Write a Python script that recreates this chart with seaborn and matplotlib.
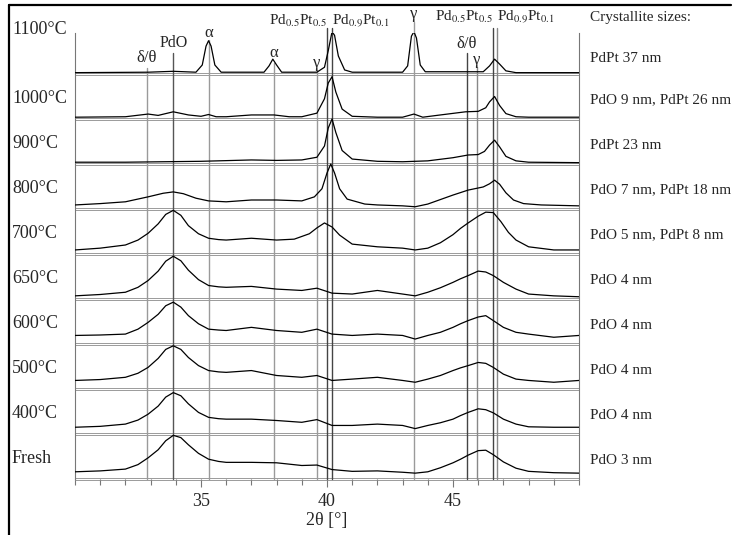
import numpy as np
import matplotlib
matplotlib.use("Agg")
import matplotlib.pyplot as plt
import matplotlib.transforms as mtransforms
from matplotlib.lines import Line2D
from matplotlib.ticker import MultipleLocator
import seaborn as sns

# samples, bottom row first
samples = ['Fresh', '400°C', '500°C', '600°C', '650°C', '700°C', '800°C', '900°C', '1000°C', '1100°C']
sizes = ['PdO 3 nm', 'PdO 4 nm', 'PdO 4 nm', 'PdO 4 nm', 'PdO 4 nm',
         'PdO 5 nm, PdPt 8 nm', 'PdO 7 nm, PdPt 18 nm', 'PdPt 23 nm',
         'PdO 9 nm, PdPt 26 nm', 'PdPt 37 nm']

# patterns (intensity in row heights)
tt_broad = [30, 31, 32, 32.5, 32.9, 33.3, 33.6, 33.9, 34.2, 34.5, 34.9, 35.3, 35.7, 36, 37, 38, 39, 39.6,
            40.2, 41, 42, 43, 43.5, 44, 44.5, 45, 45.3, 45.6, 46.0, 46.3, 46.6, 47, 47.5, 48, 49, 50]
i_fresh = [0.16, 0.18, 0.22, 0.32, 0.47, 0.65, 0.85, 0.97, 0.92, 0.76, 0.57, 0.44, 0.39, 0.37, 0.37, 0.36, 0.30, 0.31,
           0.21, 0.17, 0.18, 0.15, 0.13, 0.16, 0.25, 0.36, 0.44, 0.53, 0.63, 0.64, 0.54, 0.38, 0.24, 0.17, 0.14, 0.13]
i_400 = [0.15, 0.17, 0.22, 0.31, 0.44, 0.62, 0.82, 0.92, 0.85, 0.67, 0.48, 0.37, 0.34, 0.33, 0.33, 0.30, 0.26, 0.32,
         0.19, 0.19, 0.22, 0.19, 0.12, 0.19, 0.25, 0.33, 0.41, 0.48, 0.56, 0.54, 0.47, 0.33, 0.22, 0.16, 0.15, 0.15]
i_500 = [0.19, 0.21, 0.26, 0.35, 0.48, 0.68, 0.88, 0.96, 0.88, 0.70, 0.52, 0.41, 0.38, 0.37, 0.41, 0.30, 0.26, 0.30,
         0.19, 0.22, 0.26, 0.19, 0.15, 0.22, 0.30, 0.41, 0.47, 0.52, 0.59, 0.57, 0.48, 0.33, 0.22, 0.19, 0.15, 0.19]
i_600 = [0.19, 0.20, 0.22, 0.33, 0.48, 0.66, 0.85, 0.93, 0.82, 0.63, 0.45, 0.33, 0.31, 0.30, 0.37, 0.30, 0.26, 0.33,
         0.22, 0.19, 0.22, 0.19, 0.11, 0.19, 0.26, 0.37, 0.45, 0.52, 0.60, 0.63, 0.52, 0.37, 0.26, 0.22, 0.15, 0.19]
i_650 = [0.07, 0.10, 0.15, 0.26, 0.41, 0.62, 0.84, 0.95, 0.85, 0.64, 0.43, 0.30, 0.27, 0.26, 0.28, 0.22, 0.19, 0.24,
         0.13, 0.11, 0.19, 0.11, 0.07, 0.15, 0.25, 0.37, 0.45, 0.52, 0.62, 0.60, 0.52, 0.37, 0.22, 0.11, 0.07, 0.05]

tt_700 = [30, 31, 32, 32.5, 32.9, 33.3, 33.6, 33.9, 34.2, 34.5, 34.9, 35.3, 35.7, 36, 37, 38, 38.7, 39.3, 39.6, 39.9,
          40.2, 40.5, 41, 42, 43, 43.5, 44, 44.5, 45, 45.3, 45.6, 46.0, 46.3, 46.6, 46.9, 47.2, 47.5, 48, 49, 50]
i_700 = [0.09, 0.13, 0.20, 0.31, 0.46, 0.67, 0.88, 0.97, 0.86, 0.63, 0.45, 0.35, 0.32, 0.31, 0.35, 0.31, 0.33, 0.45, 0.58, 0.69,
         0.60, 0.42, 0.22, 0.16, 0.13, 0.09, 0.13, 0.25, 0.43, 0.57, 0.69, 0.84, 0.93, 0.92, 0.72, 0.48, 0.31, 0.16, 0.09, 0.09]

tt_800 = [30, 31, 32, 32.9, 33.5, 33.9, 34.3, 34.8, 35.3, 36, 37, 38, 39, 39.5, 39.8, 40.0, 40.15, 40.3,
          40.5, 40.8, 41.5, 42, 43, 43.5, 44, 45, 45.6, 46.2, 46.45, 46.65, 46.85, 47.1, 47.4, 47.8, 48.5, 50]
i_800 = [0.09, 0.12, 0.16, 0.27, 0.35, 0.38, 0.34, 0.24, 0.18, 0.16, 0.20, 0.20, 0.18, 0.27, 0.45, 0.80, 1.0, 0.80,
         0.45, 0.22, 0.11, 0.09, 0.07, 0.05, 0.11, 0.31, 0.42, 0.49, 0.56, 0.64, 0.55, 0.36, 0.20, 0.12, 0.09, 0.07]

tt_900 = [30, 32, 35, 37, 38, 39, 39.6, 39.9, 40.05, 40.2, 40.35, 40.6, 41, 42, 43, 44, 45, 45.6,
          46.0, 46.25, 46.45, 46.65, 46.85, 47.1, 47.5, 48, 50]
i_900 = [0.04, 0.04, 0.06, 0.09, 0.08, 0.09, 0.15, 0.40, 0.80, 1.0, 0.70, 0.30, 0.11, 0.06, 0.05, 0.07, 0.14, 0.20,
         0.21, 0.28, 0.42, 0.53, 0.38, 0.17, 0.07, 0.04, 0.03]

tt_1000 = [30, 32, 32.9, 33.3, 33.9, 34.5, 35.0, 35.3, 35.6, 36, 37, 37.9, 38.5, 39, 39.6, 39.9, 40.05, 40.2,
           40.35, 40.6, 41, 42, 43, 43.45, 43.8, 44.5, 45.5, 46.0, 46.3, 46.45, 46.65, 46.85, 47.1, 47.5, 48, 50]
i_1000 = [0.04, 0.05, 0.11, 0.08, 0.16, 0.09, 0.06, 0.10, 0.05, 0.05, 0.09, 0.09, 0.05, 0.05, 0.13, 0.45, 0.80, 0.94,
          0.60, 0.22, 0.06, 0.04, 0.04, 0.11, 0.04, 0.09, 0.16, 0.17, 0.25, 0.38, 0.50, 0.30, 0.12, 0.05, 0.04, 0.04]

tt_1100 = [30, 32.9, 33.9, 34.8, 35.05, 35.2, 35.3, 35.4, 35.55, 35.8, 37.5, 37.7, 37.85, 38.0, 38.2, 39.6, 39.9,
           40.05, 40.2, 40.3, 40.45, 40.7, 41.0, 43.0, 43.2, 43.35, 43.45, 43.55, 43.7, 43.9, 46.2, 46.45, 46.65,
           46.85, 47.1, 47.5, 50]
i_1100 = [0.03, 0.04, 0.06, 0.04, 0.20, 0.62, 0.74, 0.62, 0.20, 0.04, 0.04, 0.18, 0.33, 0.20, 0.04, 0.04, 0.15,
          0.52, 0.94, 0.86, 0.40, 0.09, 0.04, 0.04, 0.18, 0.84, 0.94, 0.80, 0.20, 0.05, 0.05, 0.18, 0.33,
          0.22, 0.07, 0.03, 0.03]

patterns = [(tt_broad, i_fresh), (tt_broad, i_400), (tt_broad, i_500), (tt_broad, i_600), (tt_broad, i_650),
            (tt_700, i_700), (tt_800, i_800), (tt_900, i_900), (tt_1000, i_1000), (tt_1100, i_1100)]

# reference reflections
ref_pos = [32.85, 33.9, 35.3, 37.9, 39.6, 40.0, 40.2, 43.45, 45.55, 45.95, 46.6, 46.75]
ref_names = ['δ/θ', 'PdO', 'α', 'α', 'γ', 'Pd$_{0.5}$Pt$_{0.5}$', 'Pd$_{0.9}$Pt$_{0.1}$', 'γ',
             'δ/θ', 'γ', 'Pd$_{0.5}$Pt$_{0.5}$', 'Pd$_{0.9}$Pt$_{0.1}$']

sns.set_style("white")
plt.rcParams['font.family'] = ['Liberation Serif', 'DejaVu Serif']
plt.rcParams['mathtext.fontset'] = 'stix'

W, H = 733, 535
fig = plt.figure(figsize=(W / 100, H / 100), dpi=100)
ax_l, ax_r, ax_b, ax_t = 75, 579, 479, 33
ax = fig.add_axes([ax_l / W, 1 - ax_b / H, (ax_r - ax_l) / W, (ax_b - ax_t) / H])
row_px = 45.0
ax.set_xlim(30, 50)
ax.set_ylim(0, (ax_b - ax_t) / row_px)

def fy(px):
    return 1 - px / H

# row separators (double lines)
for k in range(10):
    for dy in (-0.025, 0.025):
        ax.axhline(k + dy, color='#8a8a8a', lw=0.6, clip_on=False, zorder=1)

# reference lines and their labels
line_top = [68, 53, 40, 63, 70, 28, 28, 22, 53, 67, 28, 28]
lab_y = [58, 43, 33, 53, 63, 21, 21, 14, 44, 60, 17, 17]
lab_ha = ['center'] * 5 + ['right', 'left', 'center', 'center', 'center', 'right', 'left']
line_col = ['#9a9a9a', '#555555', '#9a9a9a', '#9a9a9a', '#9a9a9a', '#444444', '#444444',
            '#9a9a9a', '#444444', '#888888', '#444444', '#888888']
lab_size = [12, 11.5, 12, 12, 12, 11, 11, 12, 12, 12, 11, 11]
blend = mtransforms.blended_transform_factory(ax.transData, fig.transFigure)
for p, name, top, ly, ha, c, fs in zip(ref_pos, ref_names, line_top, lab_y, lab_ha, line_col, lab_size):
    ax.plot([p, p], [0, (ax_b - top) / row_px], color=c, lw=1.0, clip_on=False, zorder=1)
    ax.text(p, fy(ly), name, transform=blend, ha=ha, va='center', fontsize=fs)

# diffraction patterns
for k, (tt, inten) in enumerate(patterns):
    sns.lineplot(x=tt, y=np.array(inten) + k, color='black', lw=0.9, ax=ax,
                 errorbar=None, sort=True, zorder=3)

# sample names and crystallite sizes
for k, (s, c) in enumerate(zip(samples, sizes)):
    ly = 30 if k == 9 else ax_b - row_px * (k + 0.45)
    fig.text(12 / W, fy(ly), s, ha='left', va='center', fontsize=13)
    ry = 58 if k == 9 else ax_b - row_px * (k + 0.42)
    fig.text(590 / W, fy(ry), c, ha='left', va='center', fontsize=11)
fig.text(590 / W, fy(17), 'Crystallite sizes:', ha='left', va='center', fontsize=11)

for side in ('top', 'bottom'):
    ax.spines[side].set_visible(False)
for side in ('left', 'right'):
    ax.spines[side].set_color('#777777')
    ax.spines[side].set_linewidth(0.8)
ax.set_yticks([])
ax.set_xticks([35, 40, 45])
ax.xaxis.set_minor_locator(MultipleLocator(1))
ax.tick_params(axis='x', which='major', direction='out', length=6, width=0.8, color='#777777',
               labelsize=13, pad=4, bottom=True)
ax.tick_params(axis='x', which='minor', direction='out', length=4, width=0.8, color='#777777', bottom=True)
ax.set_xlabel('')
ax.set_ylabel('')
fig.text(327 / W, fy(521), '2θ [°]', ha='center', va='center', fontsize=13)

# frame at the left and top of the figure
fig.add_artist(Line2D([9 / W, 9 / W], [0, fy(5)], color='black', lw=1.6, transform=fig.transFigure))
fig.add_artist(Line2D([9 / W, 731 / W], [fy(5), fy(5)], color='black', lw=1.6, transform=fig.transFigure))

fig.savefig('out.png', dpi=100)
